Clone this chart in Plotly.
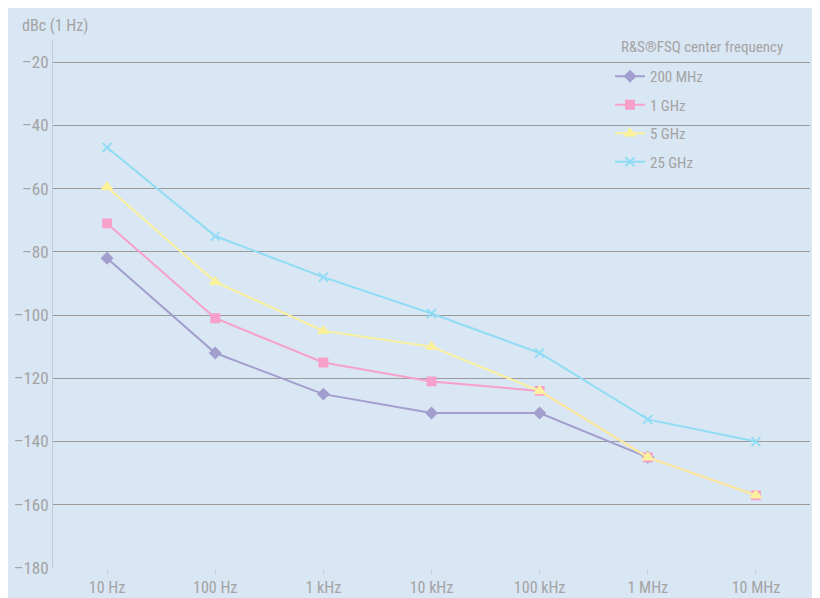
import plotly.graph_objects as go

freqs = [10, 100, 1e3, 1e4, 1e5, 1e6, 1e7]
tick_labels = ["10 Hz", "100 Hz", "1 kHz", "10 kHz", "100 kHz", "1 MHz", "10 MHz"]
y_ticks = [-180, -160, -140, -120, -100, -80, -60, -40, -20]
y_tick_labels = ["\u2013180", "\u2013160", "\u2013140", "\u2013120", "\u2013100",
                 "\u201380", "\u201360", "\u201340", "\u201320"]

s200mhz = [-82, -112, -125, -131, -131, -145]
s1ghz = [-71, -101, -115, -121, -124, -145, -157]
s5ghz = [-59.5, -89.5, -105, -110, -124, -145, -157]
s25ghz = [-47, -75, -88, -99.5, -112, -133, -140]

names = ["200 MHz", "1 GHz", "5 GHz", "25 GHz"]
colors = ["#a29ecd", "#f6a0ca", "#fbf09b", "#90dcf4"]
symbols = ["diamond", "square", "triangle-up", "x-thin"]
sizes = [8, 8, 9, 9]
series = [s200mhz, s1ghz, s5ghz, s25ghz]

FONT = "Liberation Sans Narrow, Roboto Condensed, Liberation Sans, Arial"
TXT = "#a3a3a3"
BG = "#d9e6f3"

L, R, T, B = 45, 18, 32, 38
PW, PH = 820 - L - R, 598 - T - B

fig = go.Figure()
for name, col, sym, sz, vals in zip(names, colors, symbols, sizes, series):
    fig.add_trace(go.Scatter(
        x=freqs[:len(vals)], y=vals, name=name, mode="lines+markers",
        line=dict(color=col, width=2),
        marker=dict(symbol=sym, size=sz, color=col, line=dict(color=col, width=1.8)),
        legendgroup=name,
    ))

fig.update_layout(
    width=820, height=598,
    margin=dict(l=L, r=R, t=T, b=B),
    paper_bgcolor=BG, plot_bgcolor=BG,
    font=dict(family=FONT, size=16, color=TXT),
    xaxis=dict(type="log", range=[0.5, 7.5], tickvals=freqs, ticktext=tick_labels,
               showgrid=False, zeroline=False, ticks="outside", ticklen=5,
               tickcolor="#c8cfd8", showline=False, automargin=False,
               tickfont=dict(family=FONT, size=16, color=TXT)),
    yaxis=dict(range=[-180, -13], tickvals=y_ticks, ticktext=y_tick_labels,
               showgrid=True, gridcolor="#9a9a9a", gridwidth=1.2, zeroline=False,
               showline=True, linecolor="#c3ccd6", linewidth=1, automargin=False,
               ticks="", tickfont=dict(family=FONT, size=17, color=TXT)),
    legend=dict(x=(602 - L) / PW, y=1 - (52 - T) / PH, xanchor="left", yanchor="top",
                bgcolor="rgba(0,0,0,0)", tracegroupgap=6,
                font=dict(family=FONT, size=15, color=TXT)),
    showlegend=True,
)

fig.add_annotation(text="R&S®FSQ center frequency", xref="paper", yref="paper",
                   x=(611 - L) / PW, y=1 - (39 - T) / PH, xanchor="left", yanchor="middle",
                   showarrow=False, font=dict(family=FONT, size=15, color=TXT))

fig.add_annotation(text="dBc (1 Hz)", xref="paper", yref="paper",
                   x=(12 - L) / PW, y=1 + (T - 17) / PH, xanchor="left", yanchor="middle",
                   showarrow=False, font=dict(family=FONT, size=16, color=TXT))

fig.write_html("out.html")
